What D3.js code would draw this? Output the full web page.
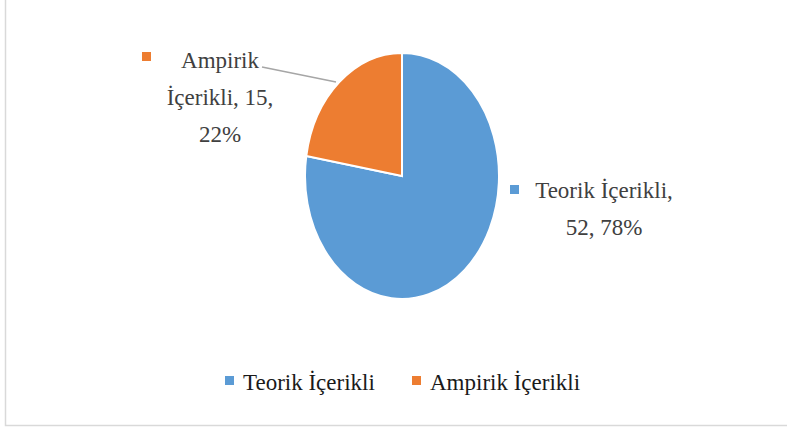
<!DOCTYPE html>
<html>
<head>
<meta charset="utf-8">
<script src="https://cdn.jsdelivr.net/npm/d3@7"></script>
<style>
  body { margin: 0; background: #fff; }
  svg { display: block; }
  text { font-family: "Palatino Linotype", "Book Antiqua", Palatino, "Liberation Serif", "DejaVu Serif", serif; }
</style>
</head>
<body>
<div id="chart"></div>
<script>
// chart data
const categories = ['Teorik İçerikli', 'Ampirik İçerikli'];
const values = [52, 15];
const colors = ['#5B9BD5', '#ED7D31'];
// data labels are split over lines like in the original
const labelLines = [
  ['Teorik İçerikli,', '52, 78%'],
  ['Ampirik', 'İçerikli, 15,', '22%']
];

const width = 787;
const height = 429;

const svg = d3.select('#chart')
  .append('svg')
  .attr('width', width)
  .attr('height', height);

// chart area border (left + bottom visible)
svg.append('rect')
  .attr('x', 5.5)
  .attr('y', -10)
  .attr('width', width + 10)
  .attr('height', 435.5)
  .attr('fill', 'none')
  .attr('stroke', '#d9d9d9')
  .attr('stroke-width', 1.5);

// pie is drawn stretched into an ellipse
const cx = 402, cy = 176;
const rx = 97, ry = 123;

const pie = d3.pie()
  .value(d => d.value)
  .sort(null);

const arc = d3.arc()
  .innerRadius(0)
  .outerRadius(ry);

const data = categories.map((c, i) => ({ name: c, value: values[i], color: colors[i], lines: labelLines[i] }));

const g = svg.append('g')
  .attr('transform', `translate(${cx},${cy}) scale(${rx / ry},1)`);

g.selectAll('path')
  .data(pie(data))
  .enter()
  .append('path')
  .attr('d', arc)
  .attr('fill', d => d.data.color)
  .attr('stroke', '#fff')
  .attr('stroke-width', 2)
  .attr('vector-effect', 'non-scaling-stroke');

// leader line for the Ampirik label
svg.append('line')
  .attr('x1', 262).attr('y1', 67)
  .attr('x2', 336).attr('y2', 82)
  .attr('stroke', '#a6a6a6')
  .attr('stroke-width', 1.5);

const fontSize = 23;
const lineGap = 37;

// data labels
const labelPos = [
  { x: 604, y: 198, mx: 510, my: 185 },
  { x: 220, y: 68, mx: 142, my: 52 }
];

data.forEach((d, i) => {
  const p = labelPos[i];
  svg.append('rect')
    .attr('x', p.mx).attr('y', p.my)
    .attr('width', 9).attr('height', 9)
    .attr('fill', d.color);
  const t = svg.append('text')
    .attr('x', p.x)
    .attr('y', p.y)
    .attr('text-anchor', 'middle')
    .attr('font-size', fontSize)
    .attr('fill', '#404040');
  d.lines.forEach((line, k) => {
    t.append('tspan')
      .attr('x', p.x)
      .attr('dy', k === 0 ? 0 : lineGap)
      .text(line);
  });
});

// legend
const legendX = [225, 412];
const legend = svg.append('g');
data.forEach((d, i) => {
  legend.append('rect')
    .attr('x', legendX[i]).attr('y', 376)
    .attr('width', 9).attr('height', 9)
    .attr('fill', d.color);
  legend.append('text')
    .attr('x', legendX[i] + 18)
    .attr('y', 390)
    .attr('font-size', fontSize)
    .attr('fill', '#1a1a1a')
    .text(d.name);
});
</script>
</body>
</html>
